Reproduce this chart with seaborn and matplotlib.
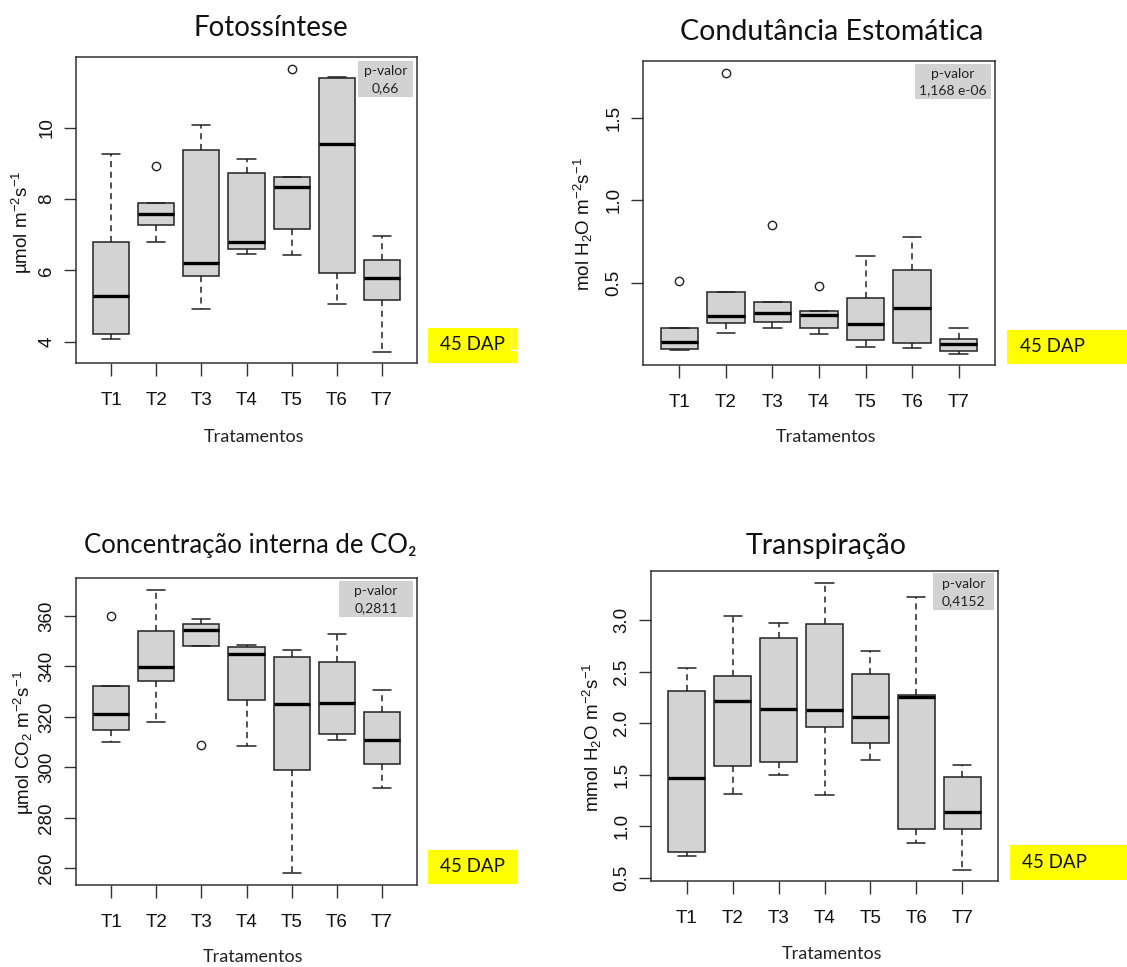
import matplotlib
matplotlib.use('Agg')
import matplotlib.pyplot as plt
from matplotlib.patches import Rectangle
from matplotlib.lines import Line2D
import numpy as np
import pandas as pd
import seaborn as sns

# ---------------- dados ----------------
trats = ['T1', 'T2', 'T3', 'T4', 'T5', 'T6', 'T7']

# [mínimo, Q1, mediana, Q3, máximo] de cada tratamento
foto_stats = [
    [4.06, 4.22, 5.29, 6.79, 9.26],
    [6.78, 7.26, 7.57, 7.90, 7.90],
    [4.91, 5.83, 6.20, 9.37, 10.06],
    [6.47, 6.60, 6.79, 8.74, 9.13],
    [6.44, 7.17, 8.34, 8.61, 8.61],
    [5.05, 5.92, 9.53, 11.39, 11.42],
    [3.70, 5.16, 5.79, 6.28, 6.96],
]
foto_out = {'T2': [8.91], 'T5': [11.64]}

cond_stats = [
    [0.093, 0.097, 0.140, 0.227, 0.227],
    [0.192, 0.255, 0.298, 0.443, 0.443],
    [0.227, 0.261, 0.316, 0.381, 0.381],
    [0.186, 0.227, 0.302, 0.328, 0.328],
    [0.111, 0.152, 0.251, 0.409, 0.662],
    [0.105, 0.134, 0.348, 0.575, 0.775],
    [0.069, 0.085, 0.130, 0.158, 0.223],
]
cond_out = {'T1': [0.510], 'T2': [1.775], 'T3': [0.852], 'T4': [0.480]}

ci_stats = [
    [310.0, 314.6, 321.2, 332.4, 332.4],
    [317.8, 334.3, 339.8, 354.1, 370.3],
    [347.9, 347.9, 354.6, 356.8, 358.7],
    [308.4, 326.6, 344.7, 347.5, 348.5],
    [258.2, 298.8, 325.2, 343.6, 346.3],
    [310.8, 313.4, 325.6, 341.7, 352.9],
    [291.8, 301.4, 310.8, 321.9, 330.8],
]
ci_out = {'T1': [360.1], 'T3': [308.7]}

transp_stats = [
    [0.707, 0.753, 1.472, 2.317, 2.540],
    [1.310, 1.588, 2.213, 2.462, 3.045],
    [1.501, 1.627, 2.139, 2.825, 2.971],
    [1.300, 1.960, 2.126, 2.961, 3.366],
    [1.646, 1.808, 2.058, 2.482, 2.702],
    [0.837, 0.973, 2.255, 2.278, 3.230],
    [0.578, 0.973, 1.138, 1.481, 1.598],
]
transp_out = {}

titulos = ['Fotossíntese', 'Condutância Estomática',
           'Concentração interna de CO₂', 'Transpiração']
ylabels = [r'µmol m$^{-2}$s$^{-1}$', r'mol H$_2$O m$^{-2}$s$^{-1}$',
           r'µmol CO$_2$ m$^{-2}$s$^{-1}$', r'mmol H$_2$O m$^{-2}$s$^{-1}$']
p_valores = ['0,66', '1,168 e-06', '0,2811', '0,4152']
yticks = [[4, 6, 8, 10], [0.5, 1.0, 1.5],
          [260, 280, 300, 320, 340, 360], [0.5, 1.0, 1.5, 2.0, 2.5, 3.0]]
ylims = [(3.40, 11.98), (0.0, 1.846), (253.4, 375.0), (0.468, 3.479)]
rotulo_x = 'Tratamentos'
rotulo_dap = '45 DAP'

# ---------------- layout (pixels) ----------------
W, H = 1127, 967
# caixa dos eixos: esquerda, topo, direita, base
eixos_px = [(76, 57, 417, 363), (643, 61, 995, 365),
            (76, 578, 417, 885), (651, 571, 998, 881)]
titulo_px = [(271, 28), (832, 32), (250, 545), (826, 546)]
titulo_fs = [20, 20.5, 18.5, 20.5]
ylab_px = [(22, 222), (583, 224), (24, 743), (592, 737)]
xlab_px = [(254, 437), (826, 437), (253, 957), (832, 954)]
pbox_px = [(358, 61, 413, 97), (915, 64, 991, 99),
           (339, 581, 413, 617), (933, 573, 994, 610)]
dap_px = [(428, 328, 517, 363), (1007, 330, 1127, 364),
          (428, 850, 517, 884), (1010, 845, 1127, 880)]
dap_txt_px = [(472, 345), (1053, 347), (472, 867), (1055, 862)]

sns.set_style('ticks')
plt.rcParams['font.family'] = ['Liberation Sans', 'DejaVu Sans']
plt.rcParams['mathtext.fontset'] = 'custom'
plt.rcParams['mathtext.rm'] = 'Liberation Sans'
plt.rcParams['mathtext.it'] = 'Liberation Sans:italic'
plt.rcParams['mathtext.bf'] = 'Liberation Sans:bold'

fonte_word = ['Lato', 'DejaVu Sans']


def fx(x):
    return x / W


def fy(y):
    return 1 - y / H


fig = plt.figure(figsize=(W / 100, H / 100), dpi=100)

paineis = [(foto_stats, foto_out), (cond_stats, cond_out),
           (ci_stats, ci_out), (transp_stats, transp_out)]

for k, (stats, outs) in enumerate(paineis):
    l, t, r, b = eixos_px[k]
    ax = fig.add_axes([fx(l), fy(b), (r - l) / W, (b - t) / H])

    # tabela longa com os 5 números de cada tratamento
    df = pd.DataFrame({
        'trat': np.repeat(trats, 5),
        'val': np.concatenate(stats),
    })
    sns.boxplot(
        data=df, x='trat', y='val', order=trats, ax=ax,
        color='#d3d3d3', saturation=1, width=0.8, whis=(0, 100),
        linecolor='#222222', linewidth=1.1, fliersize=0,
        medianprops={'color': 'black', 'linewidth': 2.4},
        whiskerprops={'linestyle': (0, (4, 3))},
    )

    if outs:
        df_out = pd.DataFrame([(tr, v) for tr, vs in outs.items() for v in vs],
                              columns=['trat', 'val'])
        sns.stripplot(data=df_out, x='trat', y='val', order=trats, ax=ax,
                      jitter=False, color='white', edgecolor='#222222',
                      linewidth=1, size=6, zorder=4)

    ax.set_xlim(-0.78, 6.78)
    ax.set_ylim(*ylims[k])
    ax.set_yticks(yticks[k])
    ax.set_xlabel('')
    ax.set_ylabel('')
    for sp in ax.spines.values():
        sp.set_visible(True)
        sp.set_color('#333333')
        sp.set_linewidth(1.1)
    ax.tick_params(axis='both', direction='out', length=9, width=1,
                   color='#333333', labelsize=13.5, labelcolor='#111111')
    ax.tick_params(axis='x', pad=12)
    ax.tick_params(axis='y', pad=6)
    for lab in ax.get_yticklabels():
        lab.set_rotation(90)
        lab.set_va('center')

    # textos do painel
    fig.text(fx(titulo_px[k][0]), fy(titulo_px[k][1]), titulos[k],
             ha='center', va='center', fontsize=titulo_fs[k],
             family=fonte_word, color='#111111')
    fig.text(fx(ylab_px[k][0]), fy(ylab_px[k][1]), ylabels[k],
             ha='center', va='center', rotation=90, fontsize=13.5,
             color='#111111')
    fig.text(fx(xlab_px[k][0]), fy(xlab_px[k][1]), rotulo_x,
             ha='center', va='center', fontsize=13, family=fonte_word,
             color='#222222')

    # caixa do p-valor
    pl, pt, pr, pb = pbox_px[k]
    fig.add_artist(Rectangle((fx(pl), fy(pb)), (pr - pl) / W, (pb - pt) / H,
                             transform=fig.transFigure, facecolor='#d2d2d2',
                             edgecolor='none', zorder=5))
    cx = fx((pl + pr) / 2)
    fig.text(cx, fy(pt + (pb - pt) * 0.29), 'p-valor', ha='center', va='center',
             fontsize=10, family=fonte_word, color='#222222', zorder=6)
    fig.text(cx, fy(pt + (pb - pt) * 0.76), p_valores[k], ha='center',
             va='center', fontsize=10, family=fonte_word, color='#222222',
             zorder=6)

    # etiqueta amarela
    dl, dt, dr, db = dap_px[k]
    fig.add_artist(Rectangle((fx(dl), fy(db)), (dr - dl) / W, (db - dt) / H,
                             transform=fig.transFigure, facecolor='#ffff00',
                             edgecolor='none', zorder=5))
    fig.text(fx(dap_txt_px[k][0]), fy(dap_txt_px[k][1]), rotulo_dap,
             ha='center', va='center', fontsize=13.5, family=fonte_word,
             color='#111111', zorder=6)

# pequeno traço branco sobre a primeira etiqueta
fig.add_artist(Line2D([fx(511), fx(511), fx(517)], [fy(328), fy(350), fy(350)],
                      transform=fig.transFigure, color='white', linewidth=1,
                      zorder=7))

fig.savefig('out.png', dpi=100)
